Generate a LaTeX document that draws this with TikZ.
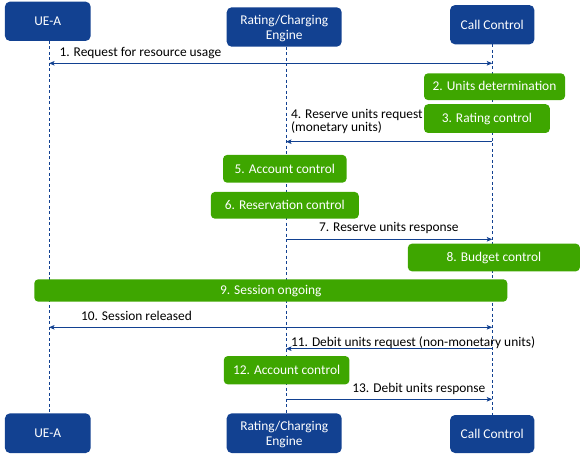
\documentclass[tikz,border=0pt]{standalone}
\usepackage{fontspec}
\setmainfont{Carlito}
\usetikzlibrary{arrows.meta}
\definecolor{nblue}{RGB}{18,65,145}
\definecolor{ngreen}{RGB}{62,166,0}
\begin{document}
\begin{tikzpicture}[x=1pt,y=-1pt,
  every node/.style={font=\fontsize{13.4}{15}\selectfont, inner sep=0pt, outer sep=0pt},
  actor/.style={fill=nblue, rounded corners=5pt, text=white, align=center},
  stepbox/.style={fill=ngreen, rounded corners=4pt, text=white, text height=8.5pt, text depth=0pt},
  life/.style={draw=nblue, line width=0.8pt, dash pattern=on 3pt off 2.5pt},
  tip/.tip={Stealth[length=5.5pt,width=4.5pt,inset=1.2pt]},
  msg/.style={draw=nblue, line width=0.9pt, -tip},
  msgb/.style={draw=nblue, line width=0.9pt, tip-tip},
  lbl/.style={anchor=base west, text=black}
]
\useasboundingbox (0,0) rectangle (581,454);
% lifeline x positions
\coordinate (lA) at (49,0);
\coordinate (lB) at (286,0);
\coordinate (lC) at (492.3,0);
% actors
\node[actor, minimum width=85.7pt, minimum height=39.3pt] (uetop) at (47.8,21.3) {UE-A};
\node[actor, minimum width=115pt, minimum height=39.4pt] (rtop) at (284.2,27) {};
\node[text=white, align=center] (rtopt) at (284.2,28.3) {Rating/Charging\\Engine};
\node[actor, minimum width=84.3pt, minimum height=39.3pt] (cctop) at (492.2,24.7) {Call Control};
\node[actor, minimum width=85.7pt, minimum height=39.7pt] (uebot) at (47.8,433.2) {UE-A};
\node[actor, minimum width=115pt, minimum height=39.7pt] (rbot) at (284.2,433.2) {};
\node[text=white, align=center] (rbott) at (284.2,434.5) {Rating/Charging\\Engine};
\node[actor, minimum width=84.3pt, minimum height=38pt] (ccbot) at (492.2,434) {Call Control};
% lifelines
\draw[life] (lA |- uetop.south) -- (lA |- uebot.north);
\draw[life] (lB |- rtop.south) -- (lB |- rbot.north);
\draw[life] (lC |- cctop.south) -- (lC |- ccbot.north);
% steps
\node[stepbox, minimum width=141pt, minimum height=26.7pt] (s2) at (494.5,86.7) {2. Units determination};
\node[stepbox, minimum width=125.7pt, minimum height=28.7pt] (s3) at (486.9,118.6) {3. Rating control};
\node[stepbox, minimum width=123.5pt, minimum height=27.7pt] (s5) at (284.8,168.8) {5. Account control};
\node[stepbox, minimum width=147.9pt, minimum height=26.7pt] (s6) at (284.8,205.3) {6. Reservation control};
\node[stepbox, minimum width=172pt, minimum height=27.6pt] (s8) at (493.9,257.5) {8. Budget control};
\node[stepbox, minimum width=473pt, minimum height=22.4pt] (s9) at (270.8,290.5) {9. Session ongoing};
\node[stepbox, minimum width=125.6pt, minimum height=28.3pt] (s12) at (286.6,370.2) {12. Account control};
% messages
\draw[msgb] (lA |- 0,63.3) -- (lC |- 0,63.3);
\node[lbl] (t1) at (59.5,57) {1. Request for resource usage};
\draw[msg] (lC |- 0,141.7) -- (lB |- 0,141.7);
\node[lbl] (t4a) at (291,118.3) {4. Reserve units request};
\node[lbl] (t4b) at (291,131.8) {(monetary units)};
\draw[msg] (lB |- 0,239.3) -- (lC |- 0,239.3);
\node[lbl] (t7) at (319,231.7) {7. Reserve units response};
\draw[msgb] (lA |- 0,327.3) -- (lC |- 0,327.3);
\node[lbl] (t10) at (81,320) {10. Session released};
\draw[msg] (lC |- 0,348.7) -- (lB |- 0,348.7);
\node[lbl] (t11) at (291,346) {11. Debit units request (non-monetary units)};
\draw[msg] (lB |- 0,399.3) -- (lC |- 0,399.3);
\node[lbl] (t13) at (352.4,392) {13. Debit units response};
\end{tikzpicture}
\end{document}
